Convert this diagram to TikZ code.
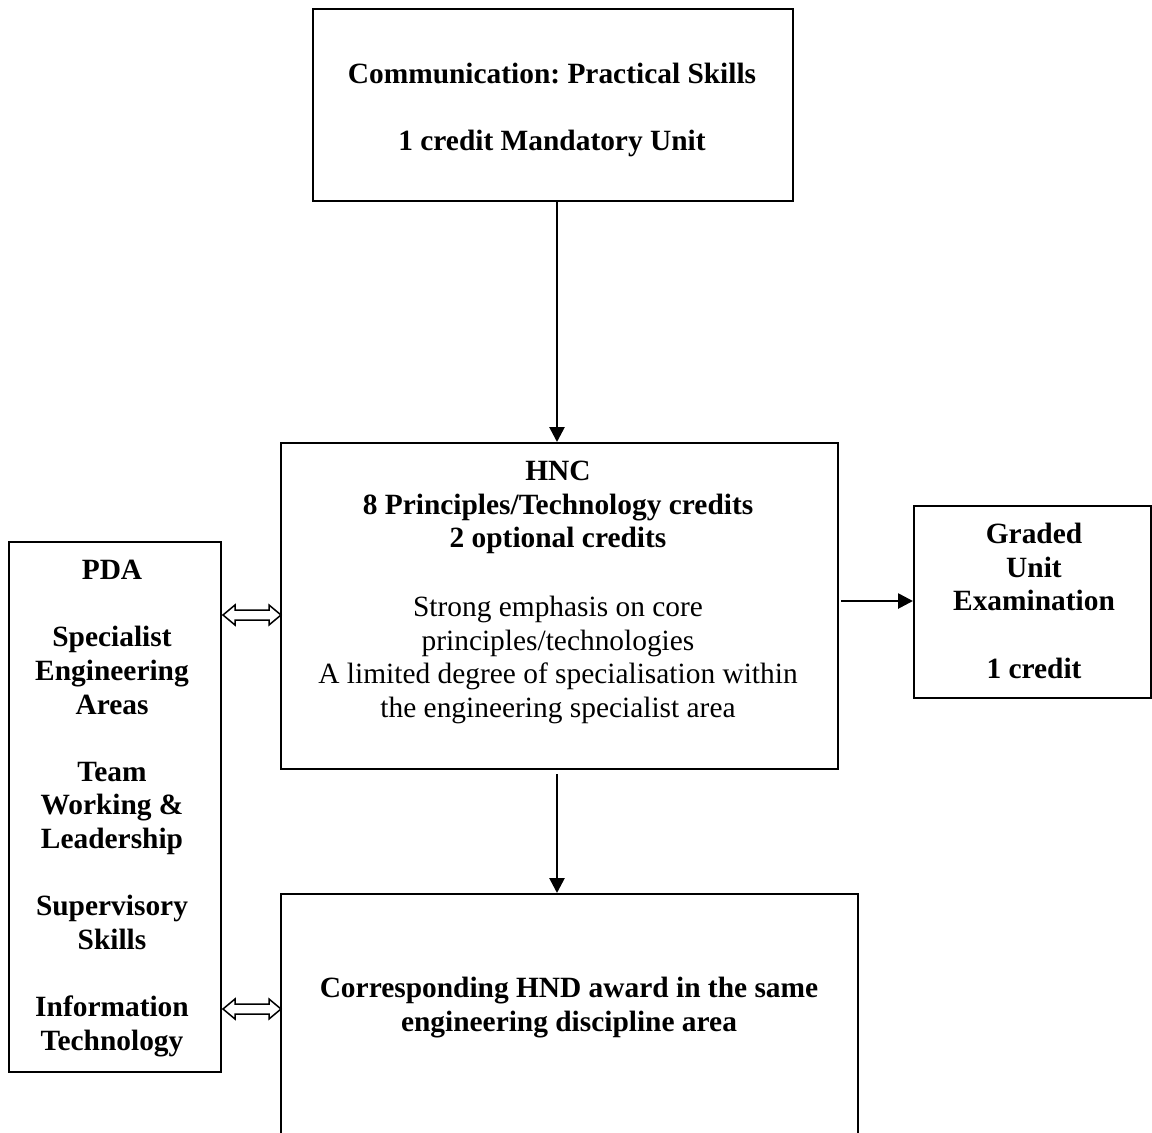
\documentclass[tikz,border=0pt]{standalone}
\usepackage{fontspec}
\setmainfont{Liberation Serif}
\usetikzlibrary{arrows.meta,calc}
\frenchspacing
\begin{document}
\begin{tikzpicture}[x=1pt,y=-1pt,
  box/.style={draw, line width=2pt, inner sep=0, anchor=north west},
  lbl/.style={font=\fontsize{29.4}{33.6}\selectfont\bfseries, align=center, anchor=north, inner sep=0},
  plaintext/.style={font=\fontsize{29.4}{33.6}\selectfont, align=center, anchor=north, inner sep=0},
  arr/.style={line width=2.7pt, -{Triangle[length=15pt,width=15pt]}},
  dbl/.style={line width=1.5pt, fill=white, line join=miter}]
\useasboundingbox (0,0) rectangle (1152,1133);
\clip (0,0) rectangle (1152,1133);
% boxes
\node[box, minimum width=480, minimum height=192] (top) at (312,8) {};
\node[box, minimum width=557, minimum height=326] (hnc) at (280,442) {};
\node[box, minimum width=237, minimum height=192] (grd) at (913,505) {};
\node[box, minimum width=212, minimum height=530] (pda) at (8,541) {};
\node[box, minimum width=577, minimum height=262] (hnd) at (280,893) {};
% texts
\node[lbl] (ttop) at (552,63) {Communication: Practical Skills\\[33.6pt]1 credit Mandatory Unit};
\node[lbl] (thnc) at (558,461) {HNC\\8 Principles/Technology credits\\2 optional credits};
\node[plaintext] (thnc2) at (558,596) {Strong emphasis on core\\principles/technologies\\A limited degree of specialisation within\\the engineering specialist area};
\node[lbl] (tgrd) at (1034,523) {Graded\\Unit\\Examination\\[33.6pt]1 credit};
\node[lbl] (tpda) at (112,560) {PDA\\[33.6pt]Specialist\\Engineering\\Areas\\[33.6pt]Team\\Working \&\\Leadership\\[33.6pt]Supervisory\\Skills\\[33.6pt]Information\\Technology};
\node[lbl] (thnd) at (569,977) {Corresponding HND award in the same\\engineering discipline area};
% arrows
\coordinate (ax) at (557,0);
\draw[arr] (top.south -| ax) -- (hnc.north -| ax);
\draw[arr] ([yshift=-4pt]hnc.south -| ax) -- (hnd.north -| ax);
\coordinate (ay) at (0,601);
\draw[arr] ([xshift=2pt]hnc.east |- ay) -- (grd.west |- ay);
% double arrows
\coordinate (d1) at (pda.east |- 0,615);
\coordinate (d2) at (pda.east |- 0,1009);
\foreach \c in {d1,d2}{
  \draw[dbl] ($(\c)+(1,0)$) -- ++(12,-10) -- ++(0,5) -- ++(34,0) -- ++(0,-5) -- ++(12,10) -- ++(-12,10) -- ++(0,-5) -- ++(-34,0) -- ++(0,5) -- cycle;
}
\end{tikzpicture}
\end{document}
